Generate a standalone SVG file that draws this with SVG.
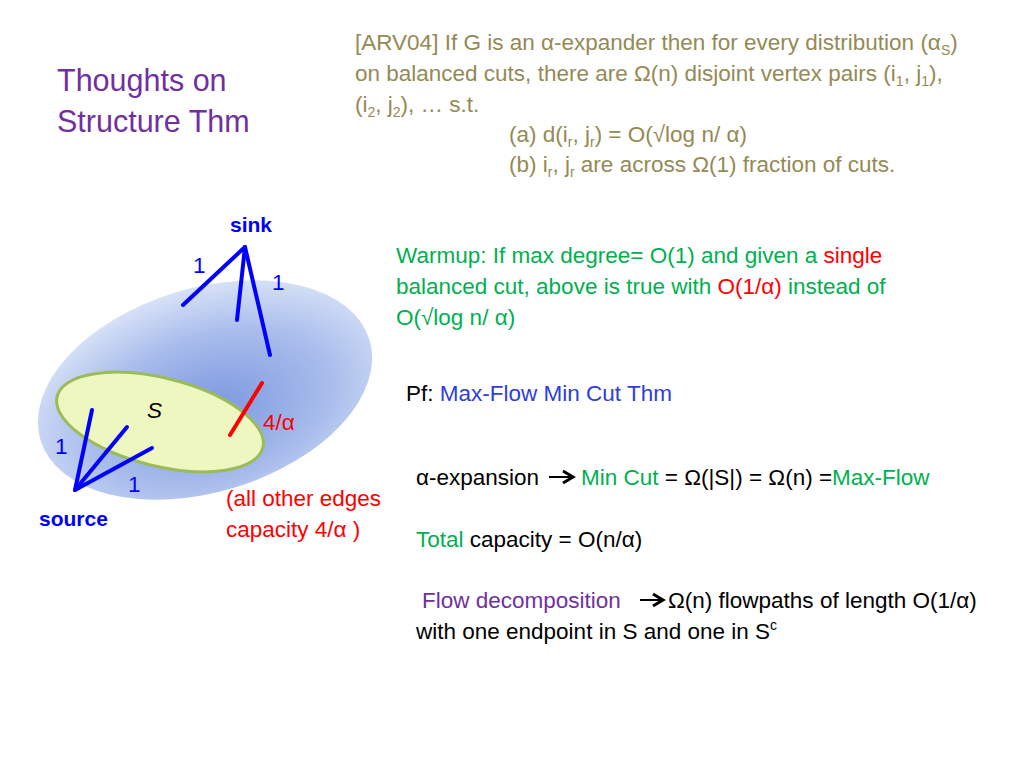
<svg xmlns="http://www.w3.org/2000/svg" width="1024" height="768" viewBox="0 0 1024 768">
<defs>
<radialGradient id="bg" cx="0.5" cy="0.6" r="0.6"><stop offset="0" stop-color="#7A97DF"/><stop offset="0.6" stop-color="#A9BDEC"/><stop offset="1" stop-color="#D8E2F7"/></radialGradient>
<marker id="ar" markerWidth="8" markerHeight="8" refX="6" refY="4" orient="auto"><path d="M1,1 L6,4 L1,7" fill="none" stroke="#000" stroke-width="1.5"/></marker>
</defs>
<style>
text{font-family:"Liberation Sans","Open Sans",sans-serif;font-size:22.5px}
.t{fill:#948A54}.g{fill:#00B050}.r{fill:#FF0000}.b{fill:#0000FF}.p{fill:#7030A0}.k{fill:#000}
.e{stroke:#0000FF;stroke-width:4;stroke-linecap:round}
.s{font-size:14px}
</style>
<rect width="1024" height="768" fill="#fff"/>
<text class="p" x="57" y="91" style="font-size:30.5px">Thoughts on</text>
<text class="p" x="57" y="132" style="font-size:30.5px">Structure Thm</text>
<g id="statement">
<text class="t" x="355" y="50">[ARV04] If G is an α-expander then for every distribution (α<tspan class="s" dy="5">S</tspan><tspan dy="-5">)</tspan></text>
<text class="t" x="355" y="81">on balanced cuts,  there are Ω(n) disjoint vertex pairs (i<tspan class="s" dy="5">1</tspan><tspan dy="-5">, j</tspan><tspan class="s" dy="5">1</tspan><tspan dy="-5">),</tspan></text>
<text class="t" x="355" y="112">(i<tspan class="s" dy="5">2</tspan><tspan dy="-5">, j</tspan><tspan class="s" dy="5">2</tspan><tspan dy="-5">), … s.t.</tspan></text>
<text class="t" x="509" y="142">(a) d(i<tspan class="s" dy="5">r</tspan><tspan dy="-5">, j</tspan><tspan class="s" dy="5">r</tspan><tspan dy="-5">)  = O(√log n/ α)</tspan></text>
<text class="t" x="509" y="172">(b) i<tspan class="s" dy="5">r</tspan><tspan dy="-5">, j</tspan><tspan class="s" dy="5">r</tspan><tspan dy="-5">  are across Ω(1) fraction of cuts.</tspan></text>
</g>
<g id="blob">
<ellipse cx="205" cy="390" rx="172" ry="102" transform="rotate(-17 205 390)" fill="url(#bg)"/>
<ellipse id="S" cx="160" cy="422" rx="106" ry="44" transform="rotate(14 160 422)" fill="#EEF7C0" stroke="#9BBB59" stroke-width="3"/>
</g>
<g id="connectors">
<line class="e" x1="245" y1="247" x2="183" y2="305"/>
<line class="e" x1="245" y1="247" x2="237" y2="320"/>
<line class="e" x1="245" y1="247" x2="270" y2="355"/>
<line class="e" x1="75" y1="490" x2="92" y2="410"/>
<line class="e" x1="75" y1="490" x2="127" y2="427"/>
<line class="e" x1="75" y1="490" x2="152" y2="448"/>
<line x1="230" y1="435" x2="262" y2="383" stroke="#FF0000" stroke-width="4" stroke-linecap="round"/>
</g>
<g id="labels">
<text class="b" x="230" y="232" font-weight="bold" style="font-size:21px">sink</text>
<text class="b" x="193" y="273">1</text>
<text class="b" x="272" y="290">1</text>
<text class="k" x="147" y="418" font-style="italic">S</text>
<text class="r" x="263" y="430">4/α</text>
<text class="b" x="55" y="454">1</text>
<text class="b" x="128" y="492">1</text>
<text class="b" x="39" y="526" font-weight="bold" style="font-size:21px">source</text>
<text class="r" x="226" y="506">(all other edges</text>
<text class="r" x="226" y="537">capacity 4/α )</text>
</g>
<g id="right">
<text class="g" x="396" y="263">Warmup: If max degree= O(1) and given a <tspan class="r">single</tspan></text>
<text class="g" x="396" y="294">balanced cut, above is true with <tspan class="r">O(1/α)</tspan> instead of</text>
<text class="g" x="396" y="325">O(√log n/ α)</text>
<text class="k" x="406" y="401">Pf:  <tspan fill="#2E3ED8">Max-Flow Min Cut Thm</tspan></text>
<text class="k" x="416" y="485">α-expansion</text>
<line x1="549" y1="477" x2="573" y2="477" stroke="#000" stroke-width="2" marker-end="url(#ar)"/>
<text class="k" x="581" y="485"><tspan class="g">Min Cut</tspan> = Ω(|S|) = Ω(n) =<tspan class="g">Max-Flow</tspan></text>
<text class="k" x="416" y="547"><tspan class="g">Total</tspan> capacity = O(n/α)</text>
<text class="p" x="422" y="608">Flow decomposition</text>
<line x1="640" y1="600" x2="663" y2="600" stroke="#000" stroke-width="2" marker-end="url(#ar)"/>
<text class="k" x="668" y="608">Ω(n) flowpaths of length O(1/α)</text>
<text class="k" x="416" y="639">with one endpoint in S and one in S<tspan class="s" dy="-9">c</tspan></text>
</g>
</svg>
